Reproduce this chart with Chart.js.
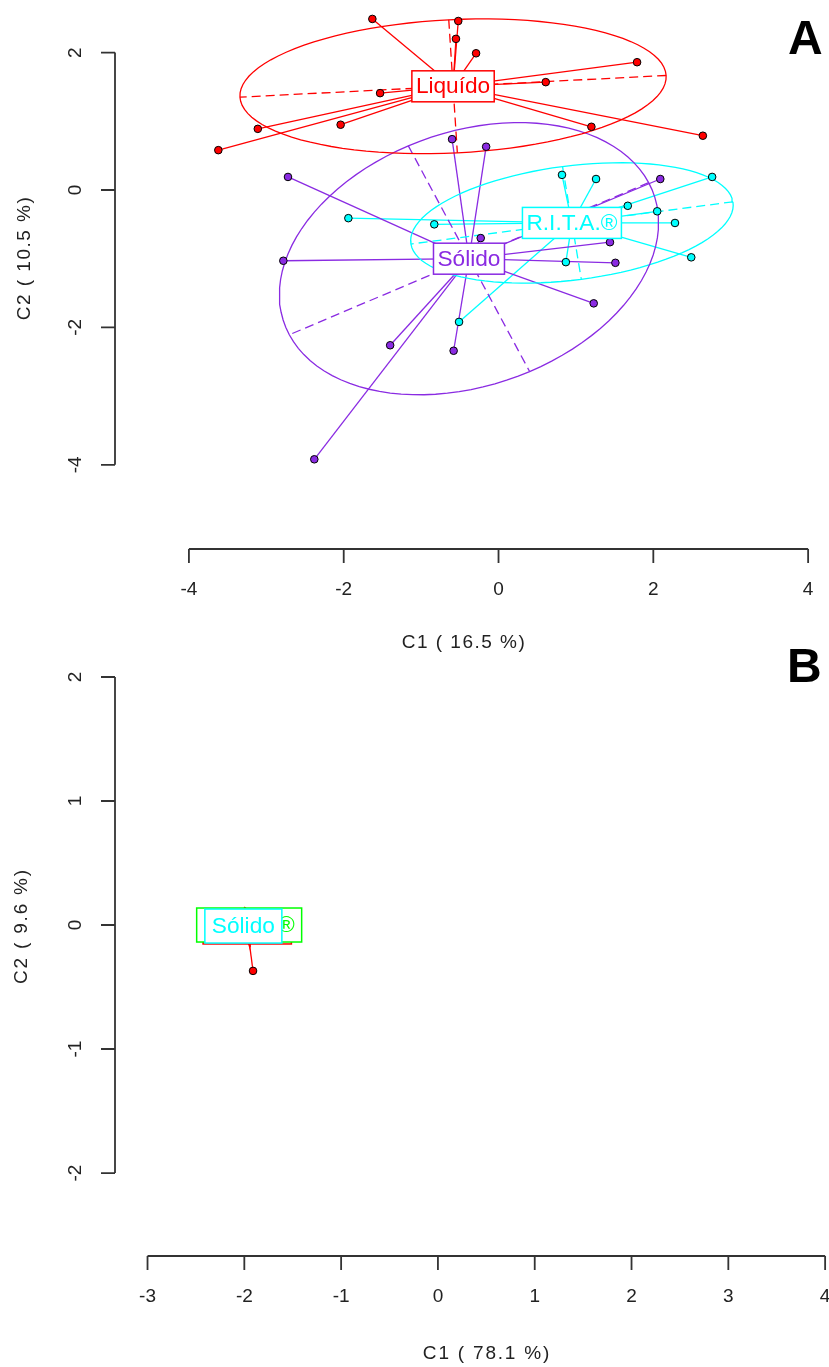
<!DOCTYPE html>
<html lang="pt-br">
<head>
<meta charset="UTF-8">
<title>s.class - C1 x C2</title>
<script src="https://cdn.jsdelivr.net/npm/chart.js"></script>
<style>
    body { margin: 0; background: #fff; width: 829px; height: 1367px; position: relative; overflow: hidden; }
    canvas { position: absolute; left: 0; }
    #graficoA { top: 0; }
    #graficoB { top: 660px; }
    .letra { position: absolute; font: bold 48px "Liberation Sans", Arial, sans-serif; color: #000; line-height: 1; }
</style>
</head>
<body>
<canvas id="graficoA" width="829" height="660"></canvas>
<canvas id="graficoB" width="829" height="707"></canvas>
<div class="letra" style="left:788px; top:14px">A</div>
<div class="letra" style="left:787px; top:642px">B</div>

<script>
// ---- Painel A ----
const liquidoAx = [-1.63, -0.52, -0.55, -0.29, 1.79, 0.61, -1.53, -2.04, -3.11, 1.20, 2.64, -3.62];
const liquidoAy = [2.49, 2.46, 2.20, 1.99, 1.86, 1.57, 1.41, 0.95, 0.89, 0.92, 0.79, 0.58];
const solidoAx = [-0.60, -0.16, -2.72, -0.23, -2.78, 2.09, 1.44, 1.51, 1.23, -1.40, -0.58, -2.38];
const solidoAy = [0.74, 0.63, 0.19, -0.70, -1.03, 0.16, -0.76, -1.06, -1.65, -2.26, -2.34, -3.92];
const ritaAx = [-1.94, -0.83, -0.51, 0.82, 1.26, 2.76, 1.67, 2.05, 2.28, 2.49, 0.87, 0.46];
const ritaAy = [-0.41, -0.50, -1.92, 0.22, 0.16, 0.19, -0.23, -0.31, -0.48, -0.98, -1.05, -0.44];
const ticksAx = [-4, -2, 0, 2, 4];
const ticksAy = [-4, -2, 0, 2];

// ---- Painel B ----
const liquidoBx = [-1.98, -1.97, -1.99, -1.96, -1.98, -1.97, -1.99, -1.98, -1.96, -1.97, -1.98, -1.91];
const liquidoBy = [0.02, 0.01, 0.03, 0.02, 0.00, 0.01, 0.02, 0.03, 0.01, 0.02, 0.01, -0.37];
const ritaBx = [-1.93, -1.97, -1.95, -1.94, -1.96, -1.95, -1.92, -1.98, -1.95, -1.94, -1.96, -1.95];
const ritaBy = [0.02, -0.01, 0.00, 0.03, -0.02, 0.01, -0.01, 0.00, 0.02, -0.03, 0.01, -0.02];
const solidoBx = [-2.03, -1.99, -2.02, -2.00, -2.01, -2.04, -1.98, -2.01, -2.02, -2.00, -2.01, -2.01];
const solidoBy = [0.01, -0.02, 0.02, -0.03, 0.00, -0.01, -0.02, 0.01, -0.02, 0.00, -0.03, -0.01];
const ticksBx = [-3, -2, -1, 0, 1, 2, 3, 4];
const ticksBy = [-2, -1, 0, 1, 2];

const FONTE = '"Liberation Sans", Arial, sans-serif';

function media(v) { return v.reduce((a, b) => a + b, 0) / v.length; }

// mesma conta do util.ellipse do ade4 (cellipse = 1.5)
function elipse(xs, ys, coef) {
    const n = xs.length, mx = media(xs), my = media(ys);
    let vx = 0, vy = 0, cxy = 0;
    for (let i = 0; i < n; i++) {
        vx += (xs[i] - mx) ** 2 / n;
        vy += (ys[i] - my) ** 2 / n;
        cxy += (xs[i] - mx) * (ys[i] - my) / n;
    }
    const delta = Math.sqrt((vx - vy) ** 2 + 4 * cxy * cxy);
    let l1 = (vx + vy + delta) / 2, l2 = vx + vy - l1;
    l1 = Math.sqrt(Math.max(l1, 0)); l2 = Math.sqrt(Math.max(l2, 0));
    let a0, b0;
    if (Math.abs(cxy) < 1e-10) {
        if (vx > vy) { a0 = 1; b0 = 0; } else { a0 = 0; b0 = 1; }
    } else {
        a0 = 1; b0 = (l1 * l1 - vx) / cxy;
        const nr = Math.hypot(a0, b0); a0 /= nr; b0 /= nr;
    }
    const c11 = coef * a0 * l1, c12 = -coef * b0 * l2, c21 = coef * b0 * l1, c22 = coef * a0 * l2;
    const curva = [];
    for (let i = 0; i <= 100; i++) {
        const a = 2 * Math.PI * i / 100;
        curva.push({ x: mx + c11 * Math.cos(a) + c12 * Math.sin(a), y: my + c21 * Math.cos(a) + c22 * Math.sin(a) });
    }
    return {
        curva,
        eixo1: [{ x: mx + c11, y: my + c21 }, { x: mx - c11, y: my - c21 }],
        eixo2: [{ x: mx + c12, y: my + c22 }, { x: mx - c12, y: my - c22 }]
    };
}

function montarDatasets(grupos) {
    const ds = [];
    grupos.forEach(g => {
        const cx = media(g.x), cy = media(g.y);
        g.x.forEach((v, i) => {
            ds.push({ data: [{ x: cx, y: cy }, { x: v, y: g.y[i] }], showLine: true, borderColor: g.cor,
                borderWidth: 1.3, pointRadius: 0, order: 3 });
        });
    });
    grupos.forEach(g => {
        const e = elipse(g.x, g.y, 1.5);
        ds.push({ data: e.curva, showLine: true, borderColor: g.cor, borderWidth: 1.3, pointRadius: 0, order: 2 });
        ds.push({ data: e.eixo1, showLine: true, borderColor: g.cor, borderWidth: 1.3, borderDash: [9, 5], pointRadius: 0, order: 2 });
        ds.push({ data: e.eixo2, showLine: true, borderColor: g.cor, borderWidth: 1.3, borderDash: [9, 5], pointRadius: 0, order: 2 });
    });
    grupos.forEach(g => {
        ds.push({ data: g.x.map((v, i) => ({ x: v, y: g.y[i] })), showLine: false, pointRadius: 3.8,
            pointBackgroundColor: g.cor, pointBorderColor: '#000', pointBorderWidth: 1, order: 1 });
    });
    return ds;
}

function textoLargo(ctx, t, x, y, sx) {
    ctx.save();
    ctx.translate(x, y);
    ctx.scale(sx, 1);
    ctx.fillText(t, 0, 0);
    ctx.restore();
}

function pluginR(cfg) {
    return {
        id: 'eixosR',
        afterDatasetsDraw(chart) {
            const { ctx, scales: { x, y } } = chart;
            // rótulos das classes
            ctx.save();
            ctx.font = cfg.fonteRotulo + 'px ' + FONTE;
            ctx.textAlign = 'center';
            ctx.textBaseline = 'middle';
            cfg.grupos.forEach(g => {
                const px = x.getPixelForValue(media(g.x)), py = y.getPixelForValue(media(g.y));
                const w = ctx.measureText(g.nome).width * cfg.esticar + cfg.margem, h = cfg.alturaRotulo;
                ctx.fillStyle = '#fff';
                ctx.fillRect(px - w / 2, py - h / 2, w, h);
                ctx.strokeStyle = g.cor; ctx.lineWidth = 1.5;
                ctx.strokeRect(px - w / 2, py - h / 2, w, h);
                ctx.fillStyle = g.cor;
                textoLargo(ctx, g.nome, px, py + 1, cfg.esticar);
            });
            ctx.restore();
        },
        afterDraw(chart) {
            const { ctx, chartArea, scales: { x, y } } = chart;
            ctx.save();
            ctx.strokeStyle = '#333'; ctx.lineWidth = 1.8; ctx.fillStyle = '#222';
            const yb = chartArea.bottom, xl = chartArea.left;
            ctx.beginPath();
            ctx.moveTo(x.getPixelForValue(cfg.ticksX[0]), yb);
            ctx.lineTo(x.getPixelForValue(cfg.ticksX[cfg.ticksX.length - 1]), yb);
            cfg.ticksX.forEach(v => { const p = x.getPixelForValue(v); ctx.moveTo(p, yb); ctx.lineTo(p, yb + 14); });
            ctx.moveTo(xl, y.getPixelForValue(cfg.ticksY[0]));
            ctx.lineTo(xl, y.getPixelForValue(cfg.ticksY[cfg.ticksY.length - 1]));
            cfg.ticksY.forEach(v => { const p = y.getPixelForValue(v); ctx.moveTo(xl, p); ctx.lineTo(xl - 14, p); });
            ctx.stroke();

            ctx.font = cfg.fonteEixo + 'px ' + FONTE;
            ctx.textAlign = 'center'; ctx.textBaseline = 'middle';
            cfg.ticksX.forEach(v => ctx.fillText(String(v), x.getPixelForValue(v), yb + 41));
            cfg.ticksY.forEach(v => {
                ctx.save();
                ctx.translate(xl - 39, y.getPixelForValue(v));
                ctx.rotate(-Math.PI / 2);
                ctx.fillText(String(v), 0, 0);
                ctx.restore();
            });
            ctx.letterSpacing = cfg.espaco + 'px';
            ctx.fillText(cfg.tituloX, cfg.tituloXpos, yb + cfg.tituloXdist);
            ctx.save();
            ctx.translate(cfg.tituloYx, cfg.tituloYpos);
            ctx.rotate(-Math.PI / 2);
            ctx.fillText(cfg.tituloY, 0, 0);
            ctx.restore();
            ctx.restore();
        }
    };
}

function criarGrafico(id, grupos, escalas, padding, cfg) {
    cfg.grupos = grupos;
    return new Chart(document.getElementById(id), {
        type: 'scatter',
        data: { datasets: montarDatasets(grupos) },
        options: {
            responsive: false,
            animation: false,
            events: [],
            layout: { padding, autoPadding: false },
            plugins: { legend: { display: false }, tooltip: { enabled: false } },
            scales: {
                x: { type: 'linear', display: false, min: escalas.xmin, max: escalas.xmax },
                y: { type: 'linear', display: false, min: escalas.ymin, max: escalas.ymax }
            }
        },
        plugins: [pluginR(cfg)]
    });
}

criarGrafico('graficoA',
    [
        { nome: 'Liquído', cor: '#ff0000', x: liquidoAx, y: liquidoAy },
        { nome: 'Sólido', cor: '#8a2be2', x: solidoAx, y: solidoAy },
        { nome: 'R.I.T.A.®', cor: '#00ffff', x: ritaAx, y: ritaAy }
    ],
    { xmin: -4.955, xmax: 4.063, ymin: -5.2256, ymax: 2.7656 },
    { left: 115, right: 16, top: 0, bottom: 111 },
    { ticksX: ticksAx, ticksY: ticksAy, tituloX: 'C1 ( 16.5 %)', tituloY: 'C2 ( 10.5 %)',
      tituloXpos: 464, tituloXdist: 94, tituloYx: 25, tituloYpos: 258, espaco: 1.5,
      fonteEixo: 19, fonteRotulo: 22, esticar: 1.03, margem: 8, alturaRotulo: 31 });

criarGrafico('graficoB',
    [
        { nome: 'Liquído', cor: '#ff0000', x: liquidoBx, y: liquidoBy },
        { nome: 'R.I.T.A.®', cor: '#00ff00', x: ritaBx, y: ritaBy },
        { nome: 'Sólido', cor: '#00ffff', x: solidoBx, y: solidoBy }
    ],
    { xmin: -3.336, xmax: 4.04, ymin: -2.669, ymax: 2.137 },
    { left: 115, right: 0, top: 0, bottom: 111 },
    { ticksX: ticksBx, ticksY: ticksBy, tituloX: 'C1 ( 78.1 %)', tituloY: 'C2 ( 9.6 %)',
      tituloXpos: 487, tituloXdist: 98, tituloYx: 22, tituloYpos: 266, espaco: 1.8,
      fonteEixo: 19, fonteRotulo: 22, esticar: 1.03, margem: 14, alturaRotulo: 34 });
</script>
</body>
</html>
